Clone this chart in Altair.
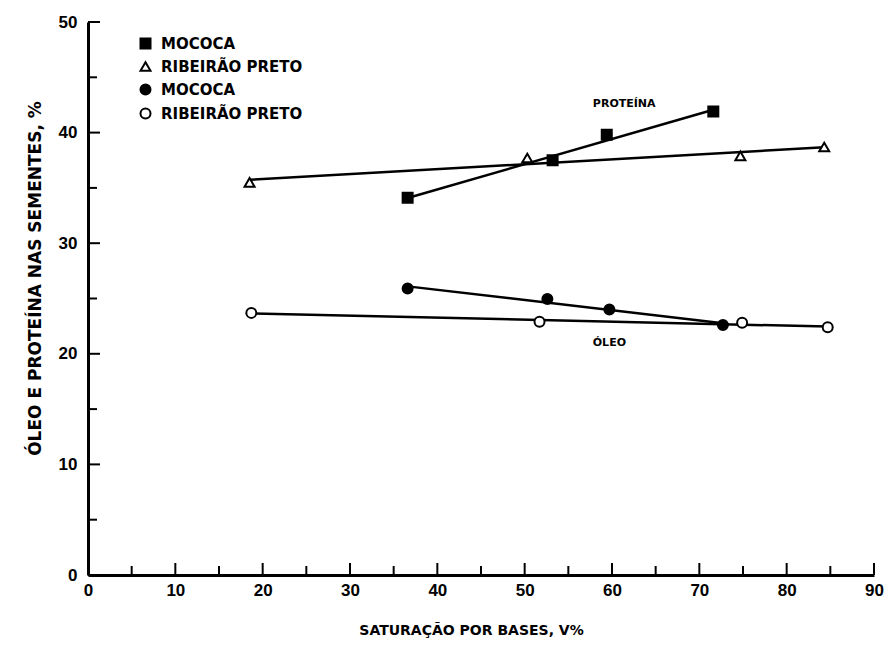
import altair as alt
import pandas as pd

# ---- data ----
series = [
    "Proteína — MOCOCA",
    "Proteína — RIBEIRÃO PRETO",
    "Óleo — MOCOCA",
    "Óleo — RIBEIRÃO PRETO",
]
prot_mococa_v = [36.6, 53.2, 59.4, 71.6]
prot_mococa_pct = [34.1, 37.5, 39.8, 41.9]
prot_rp_v = [18.5, 50.3, 74.7, 84.3]
prot_rp_pct = [35.5, 37.7, 37.9, 38.7]
oleo_mococa_v = [36.6, 52.6, 59.7, 72.7]
oleo_mococa_pct = [25.9, 24.95, 24.0, 22.6]
oleo_rp_v = [18.7, 51.7, 74.9, 84.7]
oleo_rp_pct = [23.7, 22.9, 22.8, 22.4]

x_ticks = [0, 10, 20, 30, 40, 50, 60, 70, 80, 90]
x_minor = [5, 15, 25, 35, 45, 55, 65, 75, 85]
y_ticks = [0, 10, 20, 30, 40, 50]
y_minor = [5, 15, 25, 35, 45]

ann_text = ["PROTEÍNA", "ÓLEO"]
ann_v = [61.4, 59.7]
ann_pct = [42.6, 21.0]

rows = []
for s, xs, ys in zip(series,
                     [prot_mococa_v, prot_rp_v, oleo_mococa_v, oleo_rp_v],
                     [prot_mococa_pct, prot_rp_pct, oleo_mococa_pct, oleo_rp_pct]):
    for xv, yv in zip(xs, ys):
        rows.append({"series": s, "v": xv, "pct": yv})
df = pd.DataFrame(rows)

W, H = 786, 553
LFONT = "Liberation Sans"
TFONT = "DejaVu Sans"
XTITLE = "SATURAÇÃO POR BASES, V%"
YTITLE = "ÓLEO E PROTEÍNA NAS SEMENTES, %"

xscale = alt.Scale(domain=[0, 90], nice=False, zero=False)
yscale = alt.Scale(domain=[0, 50], nice=False)

xaxis = alt.Axis(
    title=XTITLE, values=x_ticks, tickSize=0, grid=False,
    domainColor="black", domainWidth=3, labelFont=LFONT, labelFontWeight="bold",
    labelFontSize=17, labelColor="black", labelPadding=7, labelFlush=False,
    titleFont=TFONT, titleFontWeight="bold", titleFontSize=14, titleColor="black",
    titlePadding=25, titleX=383)
yaxis = alt.Axis(
    title=YTITLE, values=y_ticks, tickSize=0, grid=False,
    domainColor="black", domainWidth=3, labelFont=LFONT, labelFontWeight="bold",
    labelFontSize=17, labelColor="black", labelPadding=11,
    titleFont=TFONT, titleFontWeight="bold", titleFontSize=17, titleColor="black",
    titlePadding=14, titleY=256)

X = lambda: alt.X("v:Q", scale=xscale, axis=xaxis, title=XTITLE)
Y = lambda: alt.Y("pct:Q", scale=yscale, axis=yaxis, title=YTITLE)

base = alt.Chart(df)

lines = base.transform_regression("v", "pct", groupby=["series"]).mark_line(
    color="black", strokeWidth=2.5
).encode(x=X(), y=Y(), detail="series:N")

legend = alt.Legend(
    title=None, orient="none", legendX=50, legendY=14,
    labelExpr="split(datum.label, ' — ')[1]",
    labelFont="DejaVu Sans", labelFontWeight="bold", labelFontSize=15,
    labelColor="black", symbolStrokeColor="black", symbolStrokeWidth=2,
    symbolSize=100, rowPadding=5, labelOffset=8,
)

points = base.mark_point(filled=True, strokeWidth=2, size=100, opacity=1).encode(
    x=X(), y=Y(),
    shape=alt.Shape("series:N", scale=alt.Scale(domain=series,
                    range=["square", "triangle-up", "circle", "circle"]), legend=legend),
    fill=alt.Fill("series:N", scale=alt.Scale(domain=series,
                  range=["black", "white", "black", "white"]), legend=legend),
    stroke=alt.Stroke("series:N", scale=alt.Scale(domain=series,
                      range=["black", "black", "black", "black"]), legend=legend),
)

ann = alt.Chart(pd.DataFrame({"t": ann_text, "v": ann_v, "pct": ann_pct})).mark_text(
    font="DejaVu Sans", fontWeight="bold", fontSize=11, color="black"
).encode(x=X(), y=Y(), text="t:N")

def xtick_layer(vals, length):
    return alt.Chart(pd.DataFrame({"v": vals})).mark_rule(color="black", strokeWidth=2).encode(
        x=X(), y=alt.value(H), y2=alt.value(H - length),
    )

def ytick_layer(vals, length):
    return alt.Chart(pd.DataFrame({"pct": vals})).mark_rule(color="black", strokeWidth=2).encode(
        y=Y(), x=alt.value(0), x2=alt.value(length),
    )

chart = alt.layer(
    lines,
    xtick_layer(x_ticks, 12), xtick_layer(x_minor, 9),
    ytick_layer(y_ticks, 12), ytick_layer(y_minor, 9),
    points, ann,
).properties(
    width=W, height=H,
    padding={"left": 80, "top": 14, "right": 11, "bottom": 66},
    autosize=alt.AutoSizeParams(type="none"),
    background="white",
).configure_view(stroke=None).configure_axis(
    labelFont=LFONT, labelFontWeight="bold", labelFontSize=17, labelColor="black",
    titleFont=TFONT, titleFontWeight="bold", titleColor="black",
    domainColor="black", domainWidth=3,
)

chart.save("out.html", embed_options={"renderer": "svg", "actions": False})
